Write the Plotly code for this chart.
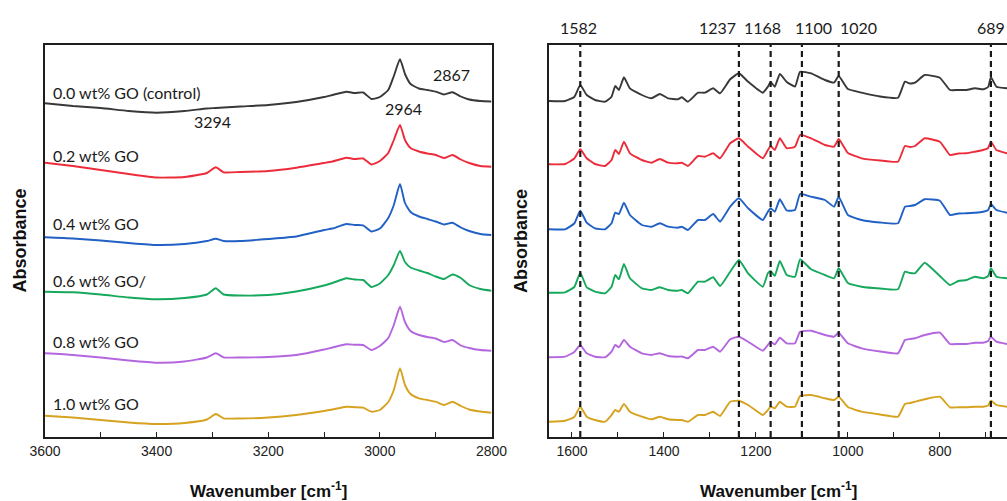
import plotly.graph_objects as go

# ---------------- data ----------------
series_names = ["0.0 wt% GO (control)", "0.2 wt% GO", "0.4 wt% GO",
                "0.6 wt% GO/", "0.8 wt% GO", "1.0 wt% GO"]

# Left panel: 3600-2800 cm-1 (stacked absorbance, arbitrary units)
wn_left = [3600, 3550, 3500, 3450, 3400, 3350, 3310, 3294, 3280, 3250, 3200,
           3150, 3100, 3085, 3060, 3045, 3030, 3015, 3000, 2985, 2975, 2964,
           2955, 2945, 2930, 2915, 2900, 2885, 2870, 2855, 2840, 2820, 2800]

left_00 = [333.7, 331, 329, 326, 324.3, 326, 328.5, 329, 329.5, 330.5, 332,
           335, 340, 342, 345.3, 344, 344.5, 338, 340, 347, 361, 377.7,
           363, 353, 348.5, 347, 345.3, 342.5, 344.7, 340.5, 337.5, 336, 335.5]
left_02 = [274.3, 271, 267, 263, 259.5, 260, 264, 269.7, 264.7, 265, 266,
           269.3, 274, 275.5, 279.3, 278, 278.5, 272.5, 276, 284, 297, 312,
           297, 289, 285.5, 283.5, 282, 279, 282, 277.5, 274, 271, 270.3]
left_04 = [199.7, 198.5, 196.5, 194, 192, 193, 196, 198.3, 196, 196, 198,
           200.5, 207, 208.5, 213, 212, 211.7, 205.5, 208.5, 219, 232, 253,
           234, 225, 220.5, 218, 215.5, 212.5, 214.3, 209.5, 206, 203, 202]
left_06 = [145.3, 144.7, 142.5, 139.5, 137.7, 139, 142.5, 148.7, 142.5, 141.5, 142,
           145.5, 151.5, 154, 158.7, 157.5, 157, 150, 153.5, 162, 172, 186,
           175, 169.5, 166.5, 164, 160.5, 158, 162.5, 159, 152, 148, 146.3]
left_08 = [83.7, 82, 79.5, 76.5, 74.3, 75.5, 79.5, 83.7, 79.7, 79.5, 80,
           82, 87.5, 89.5, 92.7, 92.2, 92, 87, 91, 99, 112, 130.3,
           115, 106, 102, 100, 98.5, 95, 97, 91.5, 89, 87, 86.3]
left_10 = [21.3, 19.5, 17, 14.5, 13, 14, 17.5, 23, 18.7, 18.5, 19.5,
           22, 26, 27.5, 30.3, 29.8, 29.3, 25.3, 27, 35, 47, 68.7,
           52, 43, 38.7, 37, 35.3, 32, 35.3, 31, 27.5, 25.5, 24.3]

# Right panel: 1650-654 cm-1
wn_right = [1650, 1615, 1595, 1582, 1568, 1550, 1528, 1514, 1506, 1498, 1487,
            1474, 1448, 1427, 1409, 1391, 1370, 1361, 1348, 1326, 1311, 1293,
            1278, 1256, 1237, 1217, 1185, 1174, 1168, 1159, 1148, 1133, 1115,
            1104, 1080, 1050, 1030, 1020, 1000, 970, 930, 891, 876, 865,
            854, 833, 800, 778, 760, 742, 724, 706, 695, 689, 677, 654]

right_00 = [336, 336, 340, 352, 342, 337, 335.3, 340.3, 351, 347, 359.7,
            348.7, 342, 338.7, 343, 338.7, 337.7, 339.7, 335.3, 344.3, 344.3, 348.7,
            343.7, 357.7, 363.7, 355.3, 344.3, 350.3, 355, 350.3, 363, 355, 350.5,
            365.3, 363.7, 357, 354.5, 361, 348, 344.3, 340.5, 339.3, 355.3, 353.5,
            354.3, 362, 359.3, 347, 347, 347, 348.7, 347.7, 350, 359.7, 350.3, 348.7]
right_02 = [272.7, 273, 278.5, 287.7, 278.7, 273, 271, 277, 287, 283, 295.3,
            283.7, 277, 274.3, 278, 274.3, 273.7, 274.3, 271, 281, 280.3, 283.7,
            278.7, 293.7, 298.7, 290.3, 278.7, 287, 291, 287, 298.7, 288.7, 290.3,
            302, 298.7, 292, 290.3, 298, 284, 278.7, 276.5, 275.3, 291, 290,
            291, 298.7, 295.3, 282, 283.5, 283.7, 285.3, 287, 289, 295.3, 287, 283.7]
right_04 = [207.7, 207.7, 213.5, 226.3, 214.3, 208.7, 207.7, 213.7, 224.3, 223, 234.3,
            222, 212, 210.3, 213.7, 210.3, 209.3, 210.3, 207, 217, 217, 223,
            215.3, 230.3, 238.7, 228.7, 217, 225.3, 228.7, 225.3, 237.7, 226.5, 227,
            243, 240.3, 237, 230.3, 240.3, 222, 217, 214.5, 213.7, 230.3, 231,
            232, 237.7, 236.3, 222, 223.5, 223.7, 224.3, 225.3, 227, 233, 227, 224.3]
right_06 = [144.3, 144.7, 150, 164.3, 149.7, 145.3, 143.7, 150.3, 162, 157.7, 173,
            158.7, 148.7, 147, 149.7, 147, 146.3, 147, 143.7, 155.3, 155.3, 159.7,
            151, 165.3, 177, 163.7, 150.3, 163.7, 166, 161, 176, 162, 160.3,
            177.7, 167.7, 162, 158.7, 168.7, 154, 150.3, 148.5, 147.7, 165.3, 164,
            163.7, 174.3, 161, 152, 156, 157, 160.3, 158.7, 161, 168.7, 160.3, 158.7]
right_08 = [79.7, 80.3, 85, 92, 83.7, 80.3, 79.7, 85.3, 92, 89.7, 97,
            90.3, 83.7, 82, 83.7, 81, 80.3, 80.5, 78.7, 87, 87, 90.3,
            85.3, 97.7, 100.3, 95.3, 86.3, 92, 95.3, 92.5, 99.2, 93.7, 93.7,
            105.3, 106.3, 102, 100.3, 104.3, 93.7, 88.7, 85.5, 83.7, 97, 98,
            98.7, 102, 104.3, 93, 93, 93, 94.3, 94.3, 96, 100.3, 95.3, 93]
right_10 = [15.3, 16.3, 20, 30.3, 20.3, 17, 15.3, 22, 27, 25.3, 33,
            25.3, 20.3, 17.7, 20.3, 17.7, 17, 17, 15.3, 22, 22, 25.3,
            21, 35.3, 36.3, 32, 22, 27, 30.3, 28.7, 35.3, 30.3, 30.3,
            41, 42, 38.7, 37, 40.3, 30, 25.3, 22.5, 20.3, 33, 34,
            35.3, 37.7, 40.3, 29.7, 29.7, 29.7, 30.3, 30.3, 31.5, 36.3, 32, 30.3]

left_series = [left_00, left_02, left_04, left_06, left_08, left_10]
right_series = [right_00, right_02, right_04, right_06, right_08, right_10]

# Peak annotations
left_peaks = [3294, 2964, 2867]
right_peaks = [1582, 1237, 1168, 1100, 1020, 689]

x_ticks_left = [3600, 3400, 3200, 3000, 2800]
x_ticks_right = [1600, 1400, 1200, 1000, 800]

# ---------------- styling ----------------
colors = ["#383838", "#ec2c3a", "#2160c4", "#16a85c", "#b466de", "#d6a320"]
W, H = 1007, 501
TOP, BOT = 45, 437
LABEL_FONT = "Lato, 'Open Sans', sans-serif"
AXIS_FONT = "Liberation Sans, Arial, sans-serif"

fig = go.Figure()
for ys, c, n in zip(left_series, colors, series_names):
    fig.add_trace(go.Scatter(x=wn_left, y=ys, mode="lines", name=n,
                             line=dict(color=c, width=1.9, shape="spline", smoothing=0.5),
                             xaxis="x", yaxis="y", showlegend=False))
for ys, c, n in zip(right_series, colors, series_names):
    fig.add_trace(go.Scatter(x=wn_right, y=ys, mode="lines", name=n,
                             line=dict(color=c, width=1.9, shape="spline", smoothing=0.4),
                             xaxis="x2", yaxis="y2", showlegend=False))

axis_common = dict(showline=True, linecolor="#1e1e1e", linewidth=1.6,
                   showgrid=False, zeroline=False, ticks="inside",
                   ticklen=5, tickwidth=1.3, tickcolor="#1e1e1e",
                   tickfont=dict(family=AXIS_FONT, size=14, color="#222"),
                   automargin=False,
                   minor=dict(ticks="inside", ticklen=5, tickwidth=1.3,
                              tickcolor="#1e1e1e", dtick=100))

fig.update_layout(
    width=W, height=H,
    margin=dict(l=0, r=0, t=TOP, b=H - BOT, pad=0, autoexpand=False),
    paper_bgcolor="white", plot_bgcolor="white",
    xaxis=dict(domain=[45 / W, 491.5 / W], range=[3600, 2800],
               tickvals=x_ticks_left, mirror=True, anchor="y", **axis_common),
    yaxis=dict(domain=[0, 1], range=[0, 392], showline=True, mirror=True,
               linecolor="#1e1e1e", linewidth=1.6, showticklabels=False,
               automargin=False,
               ticks="", showgrid=False, zeroline=False, anchor="x"),
    xaxis2=dict(domain=[549 / W, 1.0], range=[1650, 654],
                tickvals=x_ticks_right, mirror=True, anchor="y2", **axis_common),
    yaxis2=dict(domain=[0, 1], range=[0, 392], showline=True, mirror=False,
                linecolor="#1e1e1e", linewidth=1.6, showticklabels=False,
                automargin=False,
                ticks="", showgrid=False, zeroline=False, anchor="x2"),
)

# dashed reference lines in right panel
for p in right_peaks:
    fig.add_shape(type="line", xref="x2", yref="y2 domain", x0=p, x1=p,
                  y0=0, y1=1, line=dict(color="#1a1a1a", width=2.2, dash="6px,4px"))

annotations = []
# sample labels (left panel)
label_y = [344.5, 282, 214, 156.5, 95.3, 34]
for n, y in zip(series_names, label_y):
    annotations.append(dict(x=3589, y=y, xref="x", yref="y", text=n,
                            showarrow=False, xanchor="left", yanchor="middle",
                            font=dict(family=LABEL_FONT, size=16, color="#1a1a1a")))

# left panel peak labels
left_peak_pos = [(3300, 315.3), (2957, 328.7), (2872, 363)]
for p, (x, y) in zip(left_peaks, left_peak_pos):
    annotations.append(dict(x=x, y=y, xref="x", yref="y", text=str(p),
                            showarrow=False, xanchor="center", yanchor="middle",
                            font=dict(family=LABEL_FONT, size=16, color="#1a1a1a")))

# right panel top labels
right_shift = [-2, -21, -8, 12, 20, 0]
for p, s in zip(right_peaks, right_shift):
    annotations.append(dict(x=p, y=(BOT - 27) / (BOT - TOP), xref="x2", yref="paper",
                            text=str(p), xshift=s, showarrow=False,
                            xanchor="center", yanchor="middle",
                            font=dict(family=LABEL_FONT, size=16, color="#1a1a1a")))

# axis titles
for xc in (268.5, 778):
    annotations.append(dict(x=xc / W, y=(BOT - 490) / (BOT - TOP), xref="paper",
                            yref="paper", showarrow=False,
                            text="<b>Wavenumber [cm<sup>-1</sup>]</b>",
                            xanchor="center", yanchor="middle",
                            font=dict(family=AXIS_FONT, size=17, color="#111")))
for xc in (19.5, 521):
    annotations.append(dict(x=xc / W, y=(BOT - 241) / (BOT - TOP), xref="paper",
                            yref="paper", showarrow=False, textangle=-90,
                            text="<b>Absorbance</b>",
                            xanchor="center", yanchor="middle",
                            font=dict(family=AXIS_FONT, size=18, color="#111")))

fig.update_layout(annotations=annotations)
fig.write_html("out.html")
